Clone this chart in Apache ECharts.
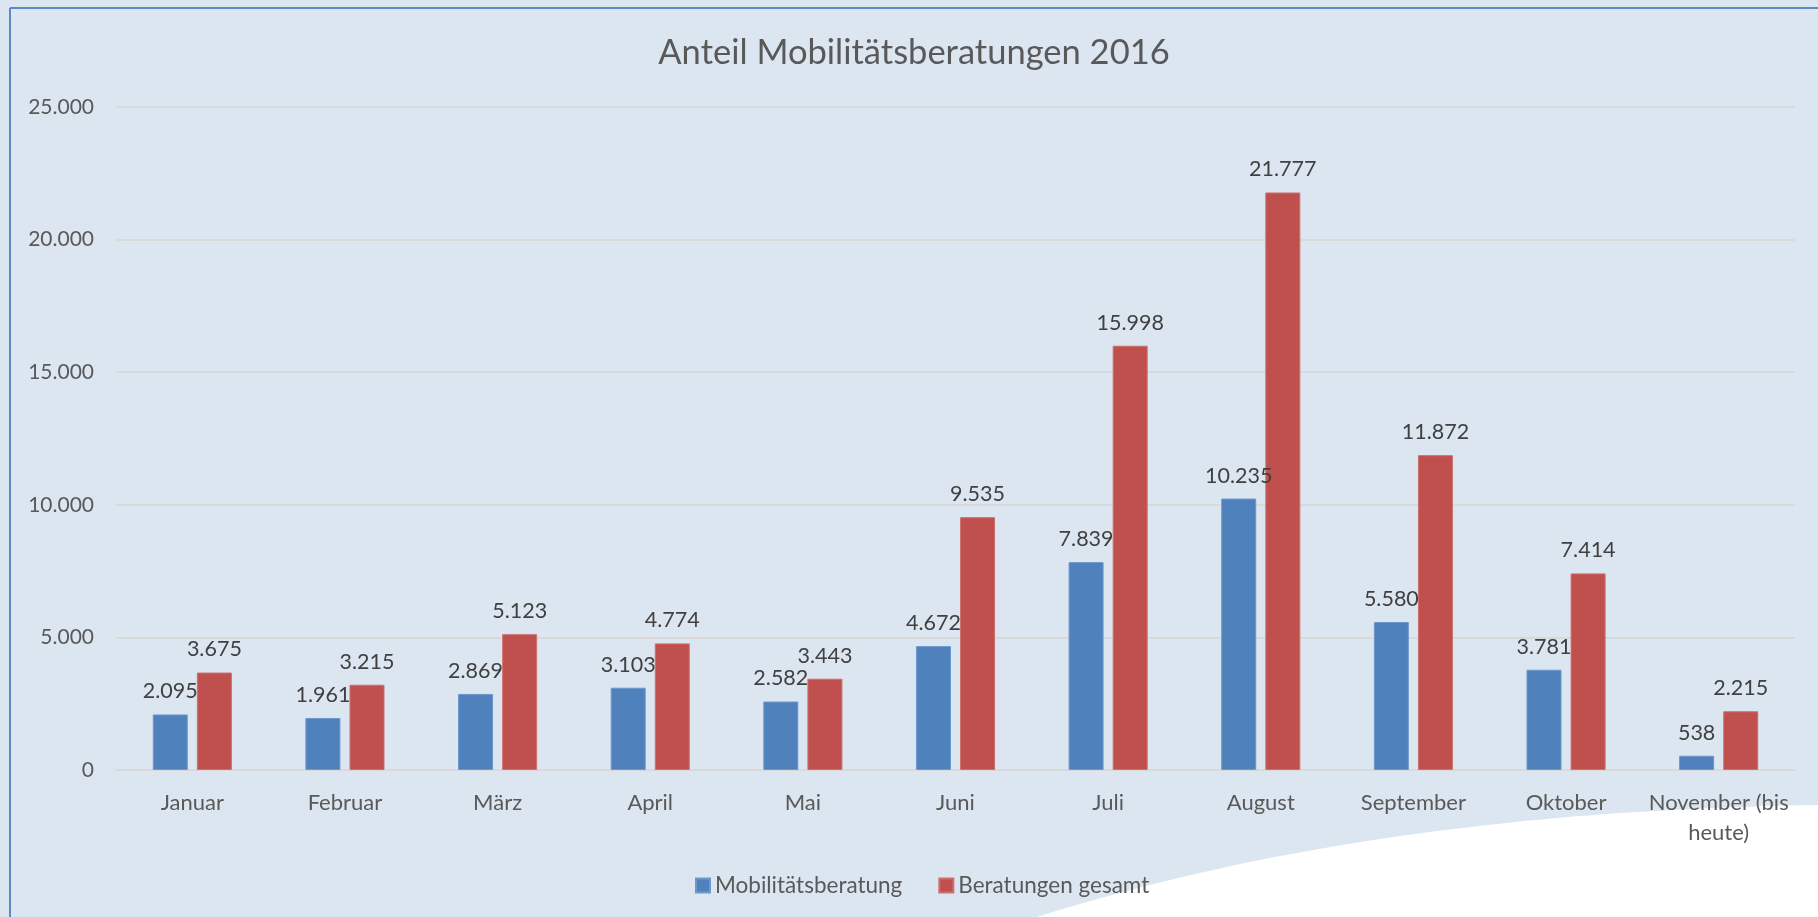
<!DOCTYPE html>
<html>
<head>
<meta charset="utf-8">
<script src="https://cdn.jsdelivr.net/npm/echarts@6/dist/echarts.min.js"></script>
<style>
html,body{margin:0;padding:0;background:#DCE6F1;}
#chart{width:1818px;height:917px;}
</style>
</head>
<body>
<div id="chart"></div>
<script>
const categories = ['Januar','Februar','März','April','Mai','Juni','Juli','August','September','Oktober','November (bis heute)'];
const mobilitaetsberatung = [2095,1961,2869,3103,2582,4672,7839,10235,5580,3781,538];
const beratungenGesamt = [3675,3215,5123,4774,3443,9535,15998,21777,11872,7414,2215];
const seriesNames = ['Mobilitätsberatung','Beratungen gesamt'];
const titleText = 'Anteil Mobilitätsberatungen 2016';

function fmt(v){ return String(v).replace(/\B(?=(\d{3})+(?!\d))/g, '.'); }

// decorative white swoosh (page background, not data)
function swoosh(){
  const p0=[1037,917], p1=[1250,850], p2=[1500,810], p3=[1818,805];
  const pts=[];
  for(let i=0;i<=48;i++){
    const t=i/48, a=(1-t)*(1-t)*(1-t), b=3*(1-t)*(1-t)*t, c=3*(1-t)*t*t, d=t*t*t;
    pts.push([a*p0[0]+b*p1[0]+c*p2[0]+d*p3[0], a*p0[1]+b*p1[1]+c*p2[1]+d*p3[1]]);
  }
  pts.push([1818,917]);
  return pts;
}

const FONT = 'Lato, "Open Sans", sans-serif';
const chart = echarts.init(document.getElementById('chart'), null, {renderer:'canvas'});

const labelCfg = {
  show: true, position: 'top', distance: 12,
  color: '#404040', fontSize: 21.5, fontFamily: FONT,
  formatter: p => fmt(p.value)
};

chart.setOption({
  backgroundColor: '#DCE6F1',
  animation: false,
  textStyle: {fontFamily: FONT},
  title: {
    text: titleText, left: 914, top: 35, textAlign: 'center', padding: 0,
    textStyle: {color: '#595959', fontSize: 34.5, fontWeight: 'normal', fontFamily: FONT}
  },
  graphic: [
    {type:'polygon', z:-1, silent:true, shape:{points: swoosh()}, style:{fill:'#FFFFFF'}},
    {type:'line', z:-1, silent:true, shape:{x1:10,y1:917,x2:10,y2:8}, style:{stroke:'#5B8BC6', lineWidth:2}},
    {type:'line', z:-1, silent:true, shape:{x1:10,y1:8,x2:1818,y2:8}, style:{stroke:'#5B8BC6', lineWidth:2}}
  ],
  legend: {
    data: seriesNames, left: 695, top: 874, icon: 'rect', padding: 0,
    itemWidth: 14, itemHeight: 14, itemGap: 36,
    textStyle: {color: '#595959', fontSize: 22.5, fontFamily: FONT}
  },
  grid: {left: 116, right: 23, top: 107, bottom: 147, containLabel: false},
  xAxis: {
    type: 'category', data: categories,
    axisLine: {show: true, lineStyle: {color: '#D9D9D9', width: 2}},
    axisTick: {show: false},
    axisLabel: {
      color: '#595959', fontSize: 22, fontFamily: FONT, margin: 18, lineHeight: 30,
      interval: 0,
      formatter: v => v.replace(' heute', '\nheute')
    }
  },
  yAxis: {
    type: 'value', min: 0, max: 25000, interval: 5000,
    axisLine: {show: false}, axisTick: {show: false},
    splitLine: {lineStyle: {color: '#D9D9D9', width: 2}},
    axisLabel: {color: '#595959', fontSize: 21, fontFamily: FONT, margin: 22, formatter: v => fmt(v)}
  },
  series: [
    {name: seriesNames[0], type: 'bar', data: mobilitaetsberatung, barWidth: 35, barGap: '26%',
     itemStyle: {color: '#4F81BD', borderColor: '#6E97CA', borderWidth: 1}, label: labelCfg},
    {name: seriesNames[1], type: 'bar', data: beratungenGesamt, barWidth: 35, barGap: '26%',
     itemStyle: {color: '#C0504D', borderColor: '#CC706E', borderWidth: 1}, label: labelCfg}
  ]
});
</script>
</body>
</html>
